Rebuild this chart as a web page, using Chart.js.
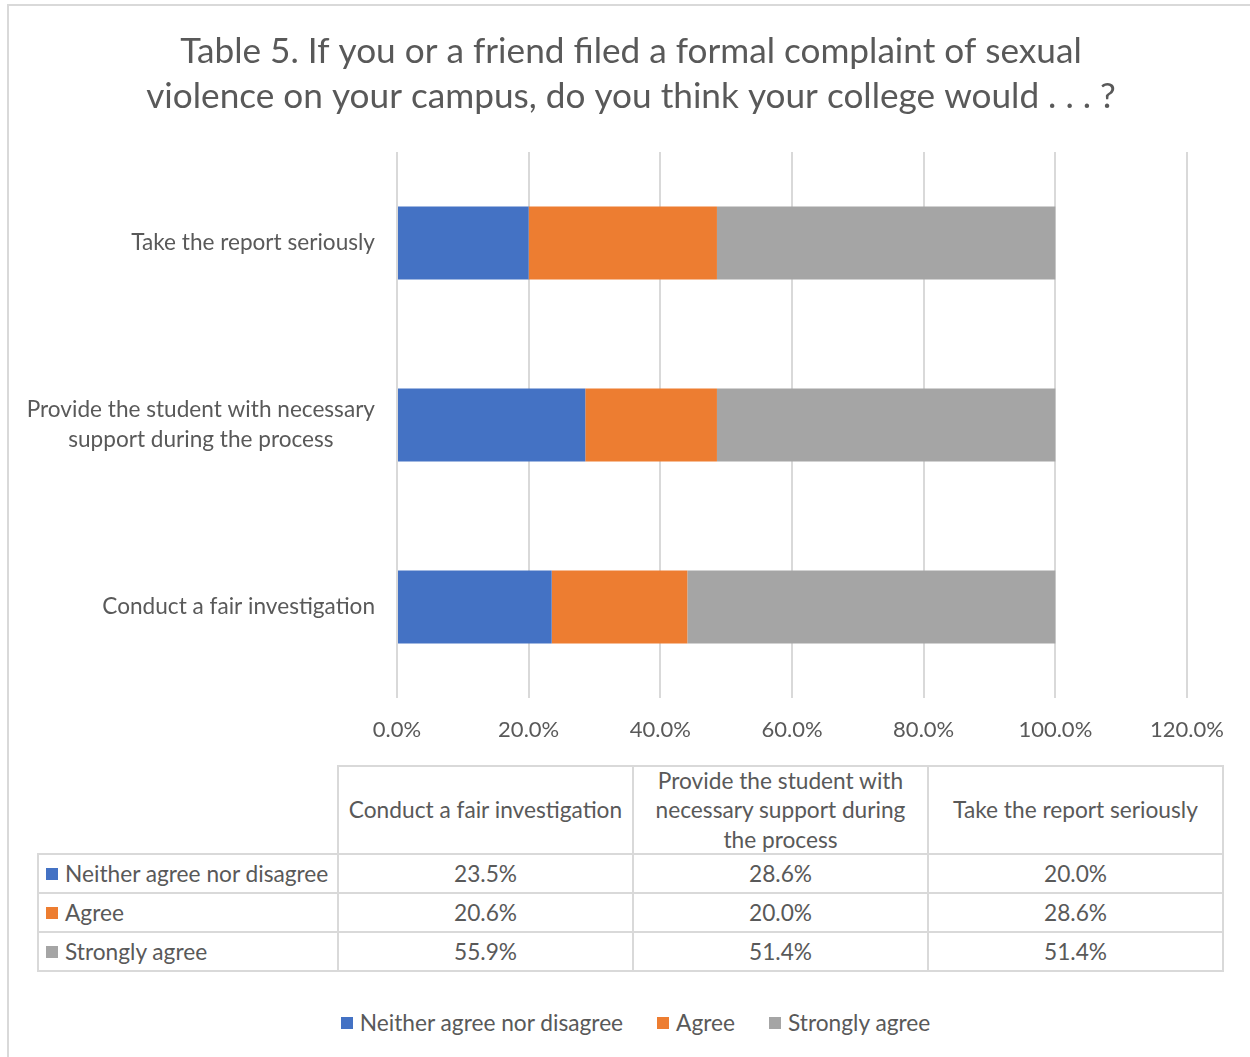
<!DOCTYPE html>
<html>
<head>
<meta charset="utf-8">
<script src="https://cdn.jsdelivr.net/npm/chart.js@4.4.1/dist/chart.umd.min.js"></script>
<style>
  html, body { margin: 0; padding: 0; background: #fff; }
  body { width: 1250px; height: 1057px; position: relative; overflow: hidden;
         font-family: Lato, "Open Sans", sans-serif; color: #595959; }
  #frame { position: absolute; left: 7px; top: 4px; width: 1300px; height: 1100px;
           border: 2px solid #d9d9d9; box-sizing: border-box; }
  #chart { position: absolute; left: 0; top: 0; }
  .cell { position: absolute; box-sizing: border-box; border: 2px solid #d9d9d9;
          display: flex; align-items: center; justify-content: center; text-align: center;
          font-size: 22.7px; line-height: 29.5px; padding: 0 6px; background: #fff; }
  .cell.blank { border: none; background: transparent; }
  .cell.rowlab { justify-content: flex-start; text-align: left; padding: 0 0 0 7px; }
  .sw { display: inline-block; width: 12px; height: 12px; margin-right: 7px; flex: none; }
  #legend { position: absolute; left: 0; width: 1271px; top: 1009px; display: flex;
            justify-content: center; align-items: center; font-size: 22.7px; line-height: 28px; }
  #legend .item { display: flex; align-items: center; margin: 0 17px; }
</style>
</head>
<body>
<div id="frame"></div>
<canvas id="chart" width="1250" height="760"></canvas>
<div id="table"></div>
<div id="legend"></div>
<script>
// ---- data ----
const titleLines = [
  'Table 5. If you or a friend filed a formal complaint of sexual',
  'violence on your campus, do you think your college would . . . ?'
];
const categories = [
  'Conduct a fair investigation',
  'Provide the student with necessary support during the process',
  'Take the report seriously'
];
const seriesNames = ['Neither agree nor disagree', 'Agree', 'Strongly agree'];
const neitherValues  = [23.5, 28.6, 20.0];
const agreeValues    = [20.6, 20.0, 28.6];
const stronglyValues = [55.9, 51.4, 51.4];
const xTickLabels = ['0.0%', '20.0%', '40.0%', '60.0%', '80.0%', '100.0%', '120.0%'];

// ---- styles ----
const seriesColors = ['#4472C4', '#ED7D31', '#A5A5A5'];
const textColor = '#595959';
const gridColor = '#d9d9d9';
const fontFamily = 'Lato, "Open Sans", sans-serif';

const seriesValues = [neitherValues, agreeValues, stronglyValues];
const fmt = v => v.toFixed(1) + '%';

// Category labels on the left: wrapped, right-aligned block with centred lines
function wrapText(ctx, text, maxWidth) {
  const words = text.split(' ');
  const lines = [];
  let cur = '';
  words.forEach(w => {
    const test = cur ? cur + ' ' + w : w;
    if (cur && ctx.measureText(test).width > maxWidth) { lines.push(cur); cur = w; }
    else cur = test;
  });
  if (cur) lines.push(cur);
  return lines;
}

const categoryLabelPlugin = {
  id: 'categoryLabels',
  afterDraw(chart) {
    const scale = chart.scales.y;
    const c = chart.ctx;
    c.save();
    c.font = '22.6px ' + fontFamily;
    c.fillStyle = textColor;
    c.textAlign = 'center';
    c.textBaseline = 'middle';
    const right = chart.chartArea.left - 22;
    const lineH = 30;
    categories.forEach((label, i) => {
      const lines = wrapText(c, label, 365);
      const w = Math.max(...lines.map(l => c.measureText(l).width));
      const cx = right - w / 2;
      const y = scale.getPixelForTick(i);
      lines.forEach((l, k) => c.fillText(l, cx, y + (k - (lines.length - 1) / 2) * lineH));
    });
    c.restore();
  }
};

new Chart(document.getElementById('chart'), {
  type: 'bar',
  data: {
    labels: categories,
    datasets: seriesNames.map((name, i) => ({
      label: name,
      data: seriesValues[i],
      backgroundColor: seriesColors[i],
      borderWidth: 0,
      categoryPercentage: 0.4,
      barPercentage: 1
    }))
  },
  options: {
    indexAxis: 'y',
    responsive: false,
    animation: false,
    layout: { padding: { left: 75, right: 63, top: 0, bottom: 0 } },
    plugins: {
      legend: { display: false },
      tooltip: { enabled: false },
      title: {
        display: true,
        text: titleLines,
        color: textColor,
        font: { family: fontFamily, size: 35.2, weight: 'normal', lineHeight: 45 / 35.2 },
        padding: { top: 29, bottom: 33 }
      }
    },
    scales: {
      x: {
        stacked: true,
        min: 0,
        max: 120,
        ticks: {
          stepSize: 20,
          maxRotation: 0,
          color: textColor,
          font: { family: fontFamily, size: 22 },
          padding: 19,
          callback: (v, i) => xTickLabels[i]
        },
        grid: { color: gridColor, lineWidth: 2, drawTicks: false },
        border: { display: false },
        afterFit(s) { s.height = 62; }
      },
      y: {
        stacked: true,
        reverse: true,
        ticks: { display: false },
        grid: { display: false },
        border: { display: false },
        afterFit(s) { s.width = 322; }
      }
    }
  },
  plugins: [categoryLabelPlugin]
});

// ---- data table under the chart ----
const colEdges = [38, 338, 633, 928, 1223];
const rowEdges = [766, 854, 893, 932, 971];
const table = document.getElementById('table');
function addCell(r, col, html, cls) {
  const d = document.createElement('div');
  d.className = 'cell' + (cls ? ' ' + cls : '');
  d.style.left = (colEdges[col] - 1) + 'px';
  d.style.top = (rowEdges[r] - 1) + 'px';
  d.style.width = (colEdges[col + 1] - colEdges[col] + 2) + 'px';
  d.style.height = (rowEdges[r + 1] - rowEdges[r] + 2) + 'px';
  d.innerHTML = html;
  table.appendChild(d);
}
addCell(0, 0, '', 'blank');
categories.forEach((cat, j) => addCell(0, j + 1, cat));
seriesNames.forEach((name, i) => {
  addCell(i + 1, 0, '<span class="sw" style="background:' + seriesColors[i] + '"></span><span>' + name + '</span>', 'rowlab');
  seriesValues[i].forEach((v, j) => addCell(i + 1, j + 1, fmt(v)));
});

// ---- legend ----
const legend = document.getElementById('legend');
seriesNames.forEach((name, i) => {
  const it = document.createElement('div');
  it.className = 'item';
  it.innerHTML = '<span class="sw" style="background:' + seriesColors[i] + '"></span><span>' + name + '</span>';
  legend.appendChild(it);
});
</script>
</body>
</html>
